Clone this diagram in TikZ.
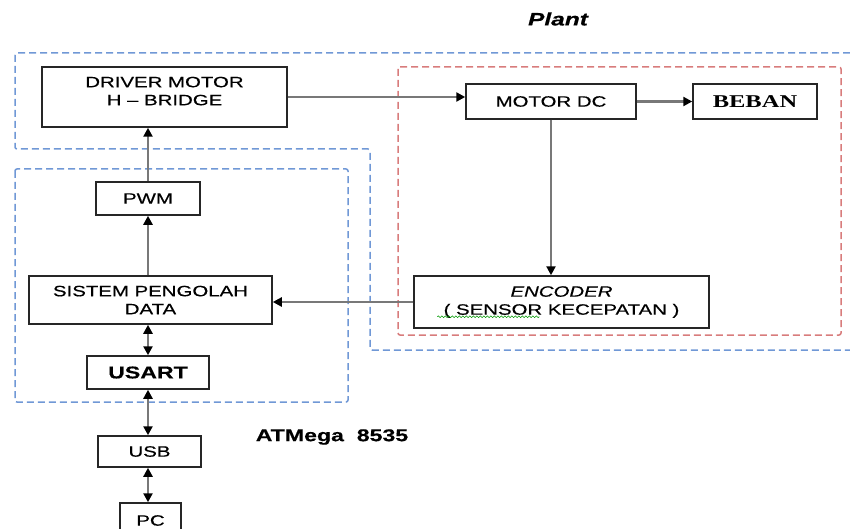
\documentclass[tikz,border=0pt]{standalone}
\usepackage{fontspec}
\setmainfont{Liberation Sans}[FakeStretch=1.36,FakeBold=0.5]
\newfontfamily\bebanfont{Liberation Serif}[FakeStretch=1.36]
\usetikzlibrary{arrows.meta,calc,decorations.pathmorphing}
\definecolor{grpblue}{RGB}{112,152,214}
\definecolor{grpred}{RGB}{216,124,124}
\definecolor{linkgray}{RGB}{120,120,120}

\begin{document}
\begin{tikzpicture}[x=1pt,y=-1pt,
    block/.style={draw=black!85, line width=1.5pt, fill=white, align=center,
      inner sep=0pt, font=\fontsize{15}{18}\selectfont},
    group/.style={line width=1.5pt, dash pattern=on 7pt off 4pt, rounded corners=2pt},
    link/.style={draw=linkgray, line width=2.5pt, -{Triangle[color=black, length=9pt, width=9pt]}},
    dlink/.style={draw=linkgray, line width=2.5pt,
      {Triangle[color=black, length=9pt, width=9pt]}-{Triangle[color=black, length=9pt, width=9pt]}}]
  \useasboundingbox (0,0) rectangle (850,529);
  % Group frames
  \draw[grpblue, group] (850,53) -- (15,53) -- (15,149) -- (370,149) -- (370,350) -- (850,350);
  \draw[grpred, group] (398,67) rectangle (841,335);
  \draw[grpblue, group] (15,169) rectangle (348,402);
  \node[font=\fontsize{18}{20}\selectfont\bfseries\itshape] (plant) at (558,19) {Plant};
  \node[font=\fontsize{17}{20}\selectfont\bfseries] (atmega) at (332,437) {ATMega\ \ 8535};
  % Blocks
  \node[block, minimum width=245, minimum height=60] (driver) at (164.5,97)
    {DRIVER MOTOR\\H -- BRIDGE\\[-6pt]\mbox{}};
  \node[block, minimum width=170, minimum height=35] (motor) at (551,101.5) {MOTOR DC};
  \node[block, minimum width=124, minimum height=35,
    font=\fontsize{18}{20}\selectfont\bebanfont\bfseries] (beban) at (755,101.5) {BEBAN};
  \node[block, minimum width=104, minimum height=33] (pwm) at (148,198.5) {PWM};
  \node[block, minimum width=243, minimum height=48] (sistem) at (150.5,300)
    {SISTEM PENGOLAH\\DATA};
  \node[block, minimum width=295, minimum height=52] (encoder) at (561.5,302)
    {\itshape ENCODER\\( SENSOR KECEPATAN )};
  \node[block, minimum width=122, minimum height=33,
    font=\fontsize{17}{20}\selectfont\bfseries] (usart) at (148,372.5) {USART};
  \node[block, minimum width=103, minimum height=31] (usb) at (149.5,451.5) {USB};
  \node[block, minimum width=61, minimum height=35] (pc) at (150.5,520.5) {PC};
  % Spelling mark
  \draw[green!60!black, line width=0.6pt, decorate,
    decoration={snake, amplitude=0.9pt, segment length=3.5pt}]
    ($(encoder.south west)+(24,-12)$) -- ++(102,0);
  % Signal flow
  \draw[link] (driver.east) -- (driver.east -| motor.west);
  \draw[link] (motor.east) -- (beban.west);
  \draw[link] (motor.south) -- (motor.south |- encoder.north);
  \draw[link] (encoder.west) -- (encoder.west -| sistem.east);
  \draw[link] (pwm.south |- sistem.north) -- (pwm.south);
  \draw[link] (pwm.north) -- (pwm.north |- driver.south);
  \draw[dlink] (usart.north) -- (usart.north |- sistem.south);
  \draw[dlink] (usart.south) -- (usart.south |- usb.north);
  \draw[dlink] (usb.south -| usart.south) -- (usart.south |- pc.north);
\end{tikzpicture}
\end{document}
